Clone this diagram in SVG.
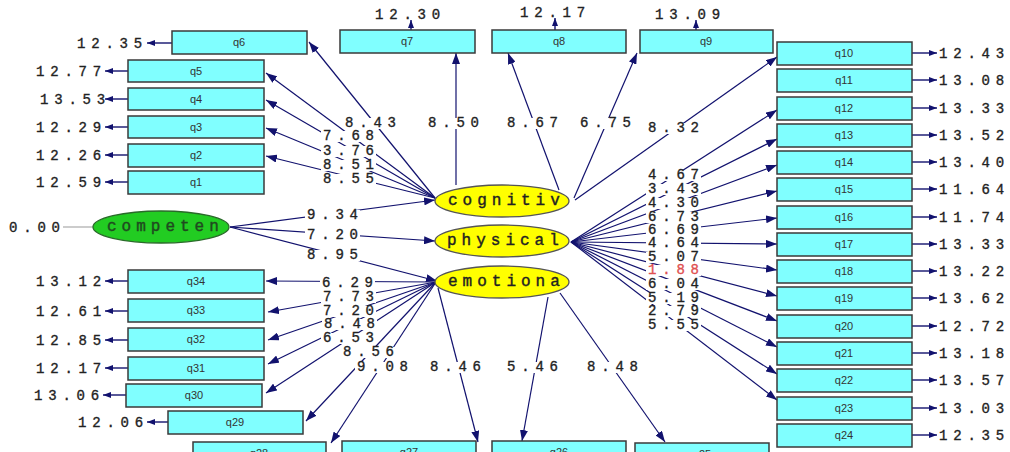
<svg xmlns="http://www.w3.org/2000/svg" width="1010" height="452" viewBox="0 0 1010 452">
<style>
.b{fill:#80ffff;stroke:#3a3a3a;stroke-width:1.5}
.bt{font-family:"Liberation Sans",Arial,sans-serif;font-size:11px;fill:#333;text-anchor:middle}
.n{font-family:"Liberation Mono","Courier New",monospace;font-size:14px;letter-spacing:5.8px;fill:#222;stroke:#222;stroke-width:0.35}
.lv{font-family:"Liberation Mono","Courier New",monospace;font-size:16px;letter-spacing:5px;fill:#222;stroke:#222;stroke-width:0.4}
.c{stroke:#12126e;stroke-width:1.2;fill:none;marker-end:url(#ah)}
.e{stroke:#12126e;stroke-width:1.4;fill:none;marker-end:url(#eh)}
.bg{fill:#fff}
.red{fill:#e05050;stroke:#e05050}
</style>
<defs>
<marker id="ah" markerUnits="userSpaceOnUse" markerWidth="12" markerHeight="8" refX="11" refY="4" orient="auto"><path d="M0,0 L11,4 L0,8 z" fill="#12126e"/></marker>
<marker id="eh" markerUnits="userSpaceOnUse" markerWidth="9" markerHeight="7" refX="8" refY="3.5" orient="auto"><path d="M0,0.5 L8,3.5 L0,6.5 z" fill="#12126e"/></marker>
</defs>
<rect width="1010" height="452" fill="#fff"/>

<g id="connectors">
<line class="c" x1="435" y1="198" x2="309" y2="42"/>
<line class="c" x1="435" y1="198" x2="266" y2="73"/>
<line class="c" x1="435" y1="198" x2="266" y2="100"/>
<line class="c" x1="435" y1="198" x2="266" y2="128"/>
<line class="c" x1="435" y1="198" x2="266" y2="156"/>
<line class="c" x1="456" y1="185" x2="456" y2="53"/>
<line class="c" x1="559" y1="190" x2="508" y2="53"/>
<line class="c" x1="574" y1="198" x2="637" y2="53"/>
<line class="c" x1="575" y1="200" x2="777" y2="57"/>
<line class="c" x1="230" y1="227" x2="435" y2="200"/>
<line class="c" x1="230" y1="227" x2="435" y2="241"/>
<line class="c" x1="230" y1="227" x2="437" y2="281"/>
<line class="c" x1="571" y1="242" x2="777" y2="110"/>
<line class="c" x1="571" y1="242" x2="777" y2="139"/>
<line class="c" x1="571" y1="242" x2="777" y2="165"/>
<line class="c" x1="571" y1="242" x2="777" y2="191"/>
<line class="c" x1="571" y1="242" x2="777" y2="218"/>
<line class="c" x1="571" y1="242" x2="777" y2="244"/>
<line class="c" x1="571" y1="242" x2="777" y2="270"/>
<line class="c" x1="571" y1="242" x2="777" y2="296"/>
<line class="c" x1="571" y1="242" x2="777" y2="321"/>
<line class="c" x1="571" y1="242" x2="777" y2="347"/>
<line class="c" x1="571" y1="242" x2="777" y2="374"/>
<line class="c" x1="571" y1="242" x2="777" y2="400"/>
<line class="c" x1="436" y1="282" x2="266" y2="281"/>
<line class="c" x1="436" y1="282" x2="268" y2="312"/>
<line class="c" x1="436" y1="282" x2="268" y2="340"/>
<line class="c" x1="436" y1="282" x2="268" y2="364"/>
<line class="c" x1="436" y1="282" x2="266" y2="393"/>
<line class="c" x1="436" y1="282" x2="306" y2="421"/>
<line class="c" x1="436" y1="282" x2="331" y2="443"/>
<line class="c" x1="438" y1="288" x2="478" y2="442"/>
<line class="c" x1="548" y1="297" x2="522" y2="441"/>
<line class="c" x1="560" y1="293" x2="665" y2="442"/>
<line x1="63" y1="227" x2="93" y2="227" stroke="#aaa" stroke-width="1.2"/>
<line class="e" x1="172" y1="43" x2="147" y2="43"/>
<line class="e" x1="128" y1="71" x2="105" y2="71"/>
<line class="e" x1="128" y1="99" x2="105" y2="99"/>
<line class="e" x1="128" y1="127" x2="105" y2="127"/>
<line class="e" x1="128" y1="155" x2="105" y2="155"/>
<line class="e" x1="128" y1="182" x2="105" y2="182"/>
<line class="e" x1="128" y1="281" x2="105" y2="281"/>
<line class="e" x1="128" y1="311" x2="105" y2="311"/>
<line class="e" x1="128" y1="340" x2="105" y2="340"/>
<line class="e" x1="128" y1="368" x2="105" y2="368"/>
<line class="e" x1="126" y1="395" x2="103" y2="395"/>
<line class="e" x1="168" y1="422" x2="147" y2="422"/>
<line class="e" x1="411" y1="30" x2="411" y2="20"/>
<line class="e" x1="555" y1="30" x2="555" y2="18"/>
<line class="e" x1="696" y1="30" x2="696" y2="20"/>
<line class="e" x1="912" y1="53" x2="937" y2="53"/>
<line class="e" x1="912" y1="80" x2="937" y2="80"/>
<line class="e" x1="912" y1="108" x2="937" y2="108"/>
<line class="e" x1="912" y1="135" x2="937" y2="135"/>
<line class="e" x1="912" y1="162" x2="937" y2="162"/>
<line class="e" x1="912" y1="189" x2="937" y2="189"/>
<line class="e" x1="912" y1="217" x2="937" y2="217"/>
<line class="e" x1="912" y1="244" x2="937" y2="244"/>
<line class="e" x1="912" y1="271" x2="937" y2="271"/>
<line class="e" x1="912" y1="298" x2="937" y2="298"/>
<line class="e" x1="912" y1="326" x2="937" y2="326"/>
<line class="e" x1="912" y1="353" x2="937" y2="353"/>
<line class="e" x1="912" y1="380" x2="937" y2="380"/>
<line class="e" x1="912" y1="408" x2="937" y2="408"/>
<line class="e" x1="912" y1="435" x2="937" y2="435"/>
</g>

<g id="coefficients">
<rect class="bg" x="343" y="118" width="55" height="11"/><text class="n" x="345" y="127">8.43</text>
<rect class="bg" x="426" y="118" width="55" height="11"/><text class="n" x="428" y="127">8.50</text>
<rect class="bg" x="505" y="118" width="55" height="11"/><text class="n" x="507" y="127">8.67</text>
<rect class="bg" x="578" y="118" width="55" height="11"/><text class="n" x="580" y="127">6.75</text>
<rect class="bg" x="646" y="123" width="55" height="11"/><text class="n" x="648" y="132">8.32</text>
<rect class="bg" x="321" y="131" width="55" height="11"/><text class="n" x="323" y="140">7.68</text>
<rect class="bg" x="321" y="146" width="55" height="11"/><text class="n" x="323" y="155">3.76</text>
<rect class="bg" x="321" y="160" width="55" height="11"/><text class="n" x="323" y="169">8.51</text>
<rect class="bg" x="321" y="174" width="55" height="11"/><text class="n" x="323" y="183">8.55</text>
<rect class="bg" x="305" y="210" width="55" height="11"/><text class="n" x="307" y="219">9.34</text>
<rect class="bg" x="305" y="230" width="55" height="11"/><text class="n" x="307" y="239">7.20</text>
<rect class="bg" x="305" y="250" width="55" height="11"/><text class="n" x="307" y="259">8.95</text>
<rect class="bg" x="646" y="170" width="55" height="11"/><text class="n" x="648" y="179">4.67</text>
<rect class="bg" x="646" y="184" width="55" height="11"/><text class="n" x="648" y="193">3.43</text>
<rect class="bg" x="646" y="198" width="55" height="11"/><text class="n" x="648" y="207">4.30</text>
<rect class="bg" x="646" y="212" width="55" height="11"/><text class="n" x="648" y="221">6.73</text>
<rect class="bg" x="646" y="225" width="55" height="11"/><text class="n" x="648" y="234">6.69</text>
<rect class="bg" x="646" y="238" width="55" height="11"/><text class="n" x="648" y="247">4.64</text>
<rect class="bg" x="646" y="252" width="55" height="11"/><text class="n" x="648" y="261">5.07</text>
<rect class="bg" x="646" y="265" width="55" height="11"/><text class="n red" x="648" y="274">1.88</text>
<rect class="bg" x="646" y="279" width="55" height="11"/><text class="n" x="648" y="288">6.04</text>
<rect class="bg" x="646" y="293" width="55" height="11"/><text class="n" x="648" y="302">5.19</text>
<rect class="bg" x="646" y="306" width="55" height="11"/><text class="n" x="648" y="315">2.79</text>
<rect class="bg" x="646" y="320" width="55" height="11"/><text class="n" x="648" y="329">5.55</text>
<rect class="bg" x="320" y="278" width="55" height="11"/><text class="n" x="322" y="287">6.29</text>
<rect class="bg" x="321" y="292" width="55" height="11"/><text class="n" x="323" y="301">7.73</text>
<rect class="bg" x="321" y="306" width="55" height="11"/><text class="n" x="323" y="315">7.20</text>
<rect class="bg" x="322" y="319" width="55" height="11"/><text class="n" x="324" y="328">8.48</text>
<rect class="bg" x="321" y="333" width="55" height="11"/><text class="n" x="323" y="342">6.53</text>
<rect class="bg" x="341" y="347" width="55" height="11"/><text class="n" x="343" y="356">8.56</text>
<rect class="bg" x="355" y="362" width="55" height="11"/><text class="n" x="357" y="371">9.08</text>
<rect class="bg" x="428" y="362" width="55" height="11"/><text class="n" x="430" y="371">8.46</text>
<rect class="bg" x="505" y="362" width="55" height="11"/><text class="n" x="507" y="371">5.46</text>
<rect class="bg" x="585" y="362" width="55" height="11"/><text class="n" x="587" y="371">8.48</text>
</g>

<g id="error-labels">
<text class="n" x="77" y="48">12.35</text>
<text class="n" x="36" y="76">12.77</text>
<text class="n" x="40" y="104">13.53</text>
<text class="n" x="36" y="132">12.29</text>
<text class="n" x="36" y="160">12.26</text>
<text class="n" x="36" y="187">12.59</text>
<text class="n" x="36" y="286">13.12</text>
<text class="n" x="36" y="316">12.61</text>
<text class="n" x="36" y="345">12.85</text>
<text class="n" x="36" y="373">12.17</text>
<text class="n" x="34" y="400">13.06</text>
<text class="n" x="78" y="427">12.06</text>
<text class="n" x="9" y="232">0.00</text>
<text class="n" x="375" y="19">12.30</text>
<text class="n" x="520" y="17">12.17</text>
<text class="n" x="655" y="19">13.09</text>
<text class="n" x="939" y="58">12.43</text>
<text class="n" x="939" y="85">13.08</text>
<text class="n" x="939" y="113">13.33</text>
<text class="n" x="939" y="140">13.52</text>
<text class="n" x="939" y="167">13.40</text>
<text class="n" x="939" y="194">11.64</text>
<text class="n" x="939" y="222">11.74</text>
<text class="n" x="939" y="249">13.33</text>
<text class="n" x="939" y="276">13.22</text>
<text class="n" x="939" y="303">13.62</text>
<text class="n" x="939" y="331">12.72</text>
<text class="n" x="939" y="358">13.18</text>
<text class="n" x="939" y="385">13.57</text>
<text class="n" x="939" y="413">13.03</text>
<text class="n" x="939" y="440">12.35</text>
</g>

<g id="competen"><ellipse cx="161" cy="227" rx="68" ry="16" fill="#22cc22" stroke="#2a6a2a" stroke-width="1.3"/><text class="lv" x="107" y="231" style="fill:#1f4a1f;stroke:#1f4a1f">competen</text></g>
<g id="cognitiv"><ellipse cx="502" cy="201" rx="67" ry="16" fill="#ffff00" stroke="#555" stroke-width="1.3"/><text class="lv" x="448" y="205">cognitiv</text></g>
<g id="physical"><ellipse cx="502" cy="241" rx="67" ry="16" fill="#ffff00" stroke="#555" stroke-width="1.3"/><text class="lv" x="447" y="245">physical</text></g>
<g id="emotiona"><ellipse cx="502" cy="282" rx="67" ry="16" fill="#ffff00" stroke="#555" stroke-width="1.3"/><text class="lv" x="448" y="286">emotiona</text></g>

<g id="q6"><rect class="b" x="172" y="31" width="135" height="23"/><text class="bt" x="239" y="46">q6</text></g>
<g id="q5"><rect class="b" x="128" y="60" width="136" height="22"/><text class="bt" x="196" y="75">q5</text></g>
<g id="q4"><rect class="b" x="128" y="88" width="136" height="22"/><text class="bt" x="196" y="103">q4</text></g>
<g id="q3"><rect class="b" x="128" y="116" width="136" height="22"/><text class="bt" x="196" y="131">q3</text></g>
<g id="q2"><rect class="b" x="128" y="144" width="136" height="23"/><text class="bt" x="196" y="159">q2</text></g>
<g id="q1"><rect class="b" x="128" y="171" width="136" height="23"/><text class="bt" x="196" y="186">q1</text></g>
<g id="q7"><rect class="b" x="340" y="30" width="135" height="23"/><text class="bt" x="407" y="45">q7</text></g>
<g id="q8"><rect class="b" x="492" y="30" width="134" height="23"/><text class="bt" x="559" y="45">q8</text></g>
<g id="q9"><rect class="b" x="640" y="30" width="133" height="23"/><text class="bt" x="706" y="45">q9</text></g>
<g id="q10"><rect class="b" x="777" y="42" width="135" height="23"/><text class="bt" x="844" y="57">q10</text></g>
<g id="q11"><rect class="b" x="777" y="69" width="135" height="23"/><text class="bt" x="844" y="84">q11</text></g>
<g id="q12"><rect class="b" x="777" y="97" width="135" height="23"/><text class="bt" x="844" y="112">q12</text></g>
<g id="q13"><rect class="b" x="777" y="124" width="135" height="23"/><text class="bt" x="844" y="139">q13</text></g>
<g id="q14"><rect class="b" x="777" y="151" width="135" height="23"/><text class="bt" x="844" y="166">q14</text></g>
<g id="q15"><rect class="b" x="777" y="178" width="135" height="23"/><text class="bt" x="844" y="193">q15</text></g>
<g id="q16"><rect class="b" x="777" y="206" width="135" height="23"/><text class="bt" x="844" y="221">q16</text></g>
<g id="q17"><rect class="b" x="777" y="233" width="135" height="23"/><text class="bt" x="844" y="248">q17</text></g>
<g id="q18"><rect class="b" x="777" y="260" width="135" height="23"/><text class="bt" x="844" y="275">q18</text></g>
<g id="q19"><rect class="b" x="777" y="287" width="135" height="23"/><text class="bt" x="844" y="302">q19</text></g>
<g id="q20"><rect class="b" x="777" y="315" width="135" height="23"/><text class="bt" x="844" y="330">q20</text></g>
<g id="q21"><rect class="b" x="777" y="342" width="135" height="23"/><text class="bt" x="844" y="357">q21</text></g>
<g id="q22"><rect class="b" x="777" y="369" width="135" height="23"/><text class="bt" x="844" y="384">q22</text></g>
<g id="q23"><rect class="b" x="777" y="397" width="135" height="23"/><text class="bt" x="844" y="412">q23</text></g>
<g id="q24"><rect class="b" x="777" y="424" width="135" height="23"/><text class="bt" x="844" y="439">q24</text></g>
<g id="q25"><rect class="b" x="635" y="443" width="134" height="23"/><text class="bt" x="702" y="458">q25</text></g>
<g id="q26"><rect class="b" x="492" y="441" width="134" height="23"/><text class="bt" x="559" y="456">q26</text></g>
<g id="q27"><rect class="b" x="342" y="441" width="134" height="23"/><text class="bt" x="409" y="456">q27</text></g>
<g id="q28"><rect class="b" x="193" y="442" width="133" height="23"/><text class="bt" x="259" y="457">q28</text></g>
<g id="q29"><rect class="b" x="168" y="411" width="135" height="23"/><text class="bt" x="235" y="426">q29</text></g>
<g id="q30"><rect class="b" x="126" y="384" width="136" height="23"/><text class="bt" x="194" y="399">q30</text></g>
<g id="q31"><rect class="b" x="128" y="357" width="136" height="23"/><text class="bt" x="196" y="372">q31</text></g>
<g id="q32"><rect class="b" x="128" y="328" width="136" height="23"/><text class="bt" x="196" y="343">q32</text></g>
<g id="q33"><rect class="b" x="128" y="299" width="136" height="23"/><text class="bt" x="196" y="314">q33</text></g>
<g id="q34"><rect class="b" x="128" y="270" width="136" height="23"/><text class="bt" x="196" y="285">q34</text></g>
</svg>
